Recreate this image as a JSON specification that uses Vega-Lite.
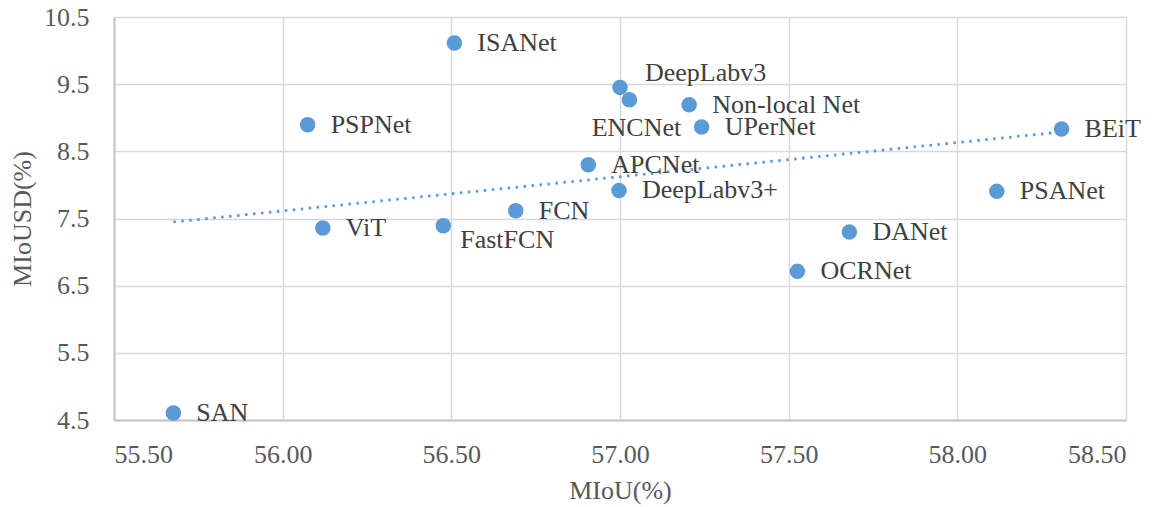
{
  "$schema": "https://vega.github.io/schema/vega-lite/v6.json",
  "autosize": "none",
  "width": 1012,
  "height": 403,
  "padding": {"left": 114, "top": 17, "right": 39, "bottom": 87},
  "background": "white",
  "config": {
    "view": {"stroke": null},
    "font": "Liberation Serif",
    "axis": {
      "gridColor": "#d9d9d9",
      "gridWidth": 1.5,
      "domainColor": "#c4c4c4",
      "domainWidth": 2,
      "ticks": false,
      "tickSize": 0,
      "labelFont": "Liberation Serif",
      "labelFontSize": 26,
      "labelColor": "#595959",
      "titleFont": "Liberation Serif",
      "titleFontSize": 26,
      "titleFontWeight": "normal",
      "titleColor": "#595959"
    }
  },
  "data": {
    "values": [
      {"model": "ISANet", "miou": 56.509, "miou_sd": 10.113},
      {"model": "DeepLabv3", "miou": 57.0, "miou_sd": 9.452},
      {"model": "ENCNet", "miou": 57.028, "miou_sd": 9.269},
      {"model": "Non-local Net", "miou": 57.205, "miou_sd": 9.194},
      {"model": "UPerNet", "miou": 57.242, "miou_sd": 8.862},
      {"model": "PSPNet", "miou": 56.074, "miou_sd": 8.897},
      {"model": "BEiT", "miou": 58.309, "miou_sd": 8.833},
      {"model": "APCNet", "miou": 56.906, "miou_sd": 8.301},
      {"model": "DeepLabv3+", "miou": 56.997, "miou_sd": 7.918},
      {"model": "PSANet", "miou": 58.117, "miou_sd": 7.904},
      {"model": "FCN", "miou": 56.691, "miou_sd": 7.616},
      {"model": "ViT", "miou": 56.119, "miou_sd": 7.359},
      {"model": "FastFCN", "miou": 56.476, "miou_sd": 7.393},
      {"model": "DANet", "miou": 57.68, "miou_sd": 7.299},
      {"model": "OCRNet", "miou": 57.526, "miou_sd": 6.713},
      {"model": "SAN", "miou": 55.676, "miou_sd": 4.604}
    ]
  },
  "encoding": {
    "x": {
      "field": "miou",
      "type": "quantitative",
      "scale": {"domain": [55.5, 58.5], "zero": false, "nice": false},
      "axis": {"values": [55.5, 56, 56.5, 57, 57.5, 58, 58.5], "format": ".2f", "title": "MIoU(%)", "labelPadding": 21, "titlePadding": 10}
    },
    "y": {
      "field": "miou_sd",
      "type": "quantitative",
      "scale": {"domain": [4.5, 10.5], "zero": false, "nice": false},
      "axis": {"values": [4.5, 5.5, 6.5, 7.5, 8.5, 9.5, 10.5], "format": ".1f", "title": "MIoUSD(%)", "labelPadding": 25, "titlePadding": 8}
    }
  },
  "layer": [
    {
      "transform": [{"regression": "miou_sd", "on": "miou"}],
      "mark": {"type": "line", "color": "#5B9BD5", "strokeWidth": 2.8, "strokeDash": [2.5, 5.5], "strokeCap": "butt"},
      "encoding": {}
    },
    {
      "mark": {"type": "circle", "color": "#5B9BD5", "opacity": 1, "size": 240}
    },
    {
      "transform": [{"filter": "datum.model !== 'DeepLabv3' && datum.model !== 'ENCNet' && datum.model !== 'FastFCN'"}],
      "mark": {"type": "text", "align": "left", "baseline": "middle", "dx": 23, "fontSize": 26, "font": "Liberation Serif", "color": "#404040"},
      "encoding": {"text": {"field": "model"}}
    },
    {
      "transform": [{"filter": "datum.model === 'DeepLabv3'"}],
      "mark": {"type": "text", "align": "left", "baseline": "middle", "dx": 25, "dy": -14, "fontSize": 26, "font": "Liberation Serif", "color": "#404040"},
      "encoding": {"text": {"field": "model"}}
    },
    {
      "transform": [{"filter": "datum.model === 'ENCNet'"}],
      "mark": {"type": "text", "align": "center", "baseline": "middle", "dx": 7, "dy": 28, "fontSize": 26, "font": "Liberation Serif", "color": "#404040"},
      "encoding": {"text": {"field": "model"}}
    },
    {
      "transform": [{"filter": "datum.model === 'FastFCN'"}],
      "mark": {"type": "text", "align": "left", "baseline": "middle", "dx": 17, "dy": 14, "fontSize": 26, "font": "Liberation Serif", "color": "#404040"},
      "encoding": {"text": {"field": "model"}}
    }
  ]
}
